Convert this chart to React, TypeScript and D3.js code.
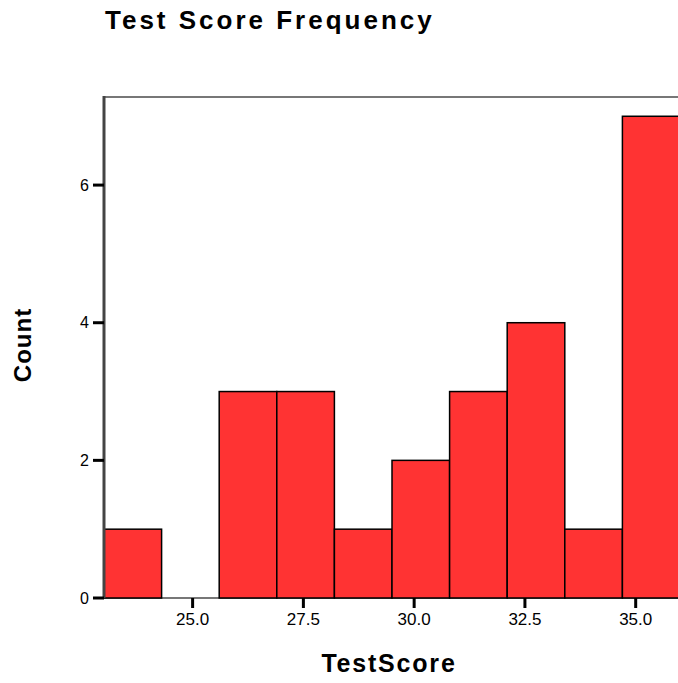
import React from "react";
import * as d3 from "d3";

const width = 678;
const height = 683;
const margin = { top: 97, right: -2, bottom: 85, left: 104 };

// histogram bins of TestScore, width 1.3 starting at 23
const binStart = 23;
const binWidth = 1.3;
const counts = [1, 0, 3, 3, 1, 2, 3, 4, 1, 7];
const xTicks = [25, 27.5, 30, 32.5, 35];
const yTicks = [0, 2, 4, 6];
const yMax = 7.28;

const font = "'Liberation Sans', Arial, sans-serif";

export default function App() {
  const x = d3
    .scaleLinear()
    .domain([binStart, binStart + binWidth * counts.length])
    .range([margin.left, width - margin.right]);
  const y = d3
    .scaleLinear()
    .domain([0, yMax])
    .range([height - margin.bottom, margin.top]);

  const bins = counts.map((c, i) => ({
    x0: binStart + i * binWidth,
    x1: binStart + (i + 1) * binWidth,
    count: c
  }));

  const fmt = d3.format(".1f");

  return (
    <svg
      width={width}
      height={height}
      style={{ position: "absolute", left: 0, top: 0, background: "#fff" }}
    >
      <text
        x={105}
        y={29}
        fontFamily={font}
        fontWeight="bold"
        fontSize={26}
        letterSpacing={3}
        fill="#000"
      >
        Test Score Frequency
      </text>

      {/* frame */}
      <line
        x1={margin.left}
        x2={width}
        y1={y(yMax)}
        y2={y(yMax)}
        stroke="#777"
        strokeWidth={2}
      />
      <line
        x1={margin.left}
        x2={width}
        y1={y(0)}
        y2={y(0)}
        stroke="#777"
        strokeWidth={2}
      />

      {bins
        .filter((d) => d.count > 0)
        .map((d, i) => (
          <rect
            key={i}
            x={x(d.x0)}
            y={y(d.count)}
            width={x(d.x1) - x(d.x0)}
            height={y(0) - y(d.count)}
            fill="#ff3333"
            stroke="#000"
            strokeWidth={1.5}
          />
        ))}

      <line
        x1={margin.left}
        x2={margin.left}
        y1={y(yMax) - 1}
        y2={y(0)}
        stroke="#444"
        strokeWidth={3}
      />

      {yTicks.map((t) => (
        <g key={t}>
          <line
            x1={margin.left - 11}
            x2={margin.left}
            y1={y(t)}
            y2={y(t)}
            stroke="#000"
            strokeWidth={3}
          />
          <text
            x={margin.left - 15}
            y={y(t)}
            dy="0.35em"
            textAnchor="end"
            fontFamily={font}
            fontSize={16}
            fill="#000"
          >
            {t}
          </text>
        </g>
      ))}

      {xTicks.map((t) => (
        <g key={t}>
          <line
            x1={x(t)}
            x2={x(t)}
            y1={y(0)}
            y2={y(0) + 10}
            stroke="#000"
            strokeWidth={3}
          />
          <text
            x={x(t)}
            y={y(0) + 27}
            textAnchor="middle"
            fontFamily={font}
            fontSize={17}
            fill="#000"
          >
            {fmt(t)}
          </text>
        </g>
      ))}

      <text
        x={389}
        y={672}
        textAnchor="middle"
        fontFamily={font}
        fontWeight="bold"
        fontSize={25}
        letterSpacing={1.8}
        fill="#000"
      >
        TestScore
      </text>
      <text
        transform={`translate(31, 345) rotate(-90)`}
        textAnchor="middle"
        fontFamily={font}
        fontWeight="bold"
        fontSize={24}
        letterSpacing={1}
        fill="#000"
      >
        Count
      </text>
    </svg>
  );
}
